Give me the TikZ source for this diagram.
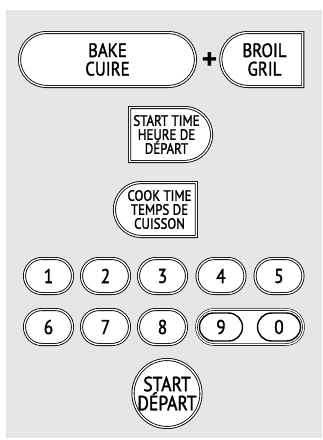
\documentclass[tikz,border=0pt]{standalone}
\usepackage{fontspec}
\setmainfont{PT Sans}
\newfontfamily\keyfont[FakeStretch=0.86,FakeBold=1.6]{PT Sans}
\usetikzlibrary{shapes.misc}
\definecolor{PanelGray}{RGB}{230,230,230}
\tikzset{
  key/.style={rounded rectangle,draw=black,fill=white,double=white,double distance=1.3pt,
    line width=0.85pt,inner sep=0pt,align=center,font=\keyfont\fontsize{19.5}{18.5}\selectfont},
  wide/.style={minimum width=82pt,minimum height=54pt},
  small/.style={font=\keyfont\fontsize{15}{14}\selectfont},
  digit/.style={key,minimum width=48pt,minimum height=35pt,font=\keyfont\fontsize{20}{16}\selectfont},
  digitin/.style={rounded rectangle,draw=black,fill=white,line width=1.4pt,inner sep=0pt,
    minimum width=43pt,minimum height=28pt,font=\keyfont\fontsize{20}{16}\selectfont},
}

\begin{document}
\begin{tikzpicture}[x=1pt,y=-1pt]
\useasboundingbox (0,0) rectangle (322,440);
\fill[PanelGray] (6,10) rectangle (322,438);
% top row
\node[key,minimum width=176pt,minimum height=54pt] (bake) at (107.5,59.5) {BAKE\\CUIRE};
\node[font=\bfseries\fontsize{30}{30}\selectfont,inner sep=0pt] (plus) at (209.5,61) {+};
\node[key,wide,rounded rectangle right arc=none] (broil) at (264.5,59.5) {BROIL\\GRIL};
% timers
\node[key,wide,small,rounded rectangle left arc=none] (starttime) at (166.5,134.5) {START TIME\\HEURE DE\\DÉPART};
\node[key,wide,small,rounded rectangle right arc=none] (cooktime) at (159.5,209.5) {COOK TIME\\TEMPS DE\\CUISSON};
% number pad
\node[digit] (k1) at (48.5,276) {1};
\node[digit] (k2) at (105.5,276) {2};
\node[digit] (k3) at (162.5,276) {3};
\node[digit] (k4) at (221,276) {4};
\node[digit] (k5) at (279,276) {5};
\node[digit] (k6) at (48.5,327) {6};
\node[digit] (k7) at (105.5,327) {7};
\node[digit] (k8) at (162.5,327) {8};
\node[key,line width=0.6pt,minimum width=107pt,minimum height=35pt] (k90) at (250,327) {};
\node[digitin] (k9) at (221,327) {9};
\node[digitin] (k0) at (279,327) {0};
% start
\node[key,circle,minimum size=65pt,font=\keyfont\fontsize{20.5}{17.5}\selectfont] (start) at (167,393.5) {START\\DÉPART};
\end{tikzpicture}
\end{document}
